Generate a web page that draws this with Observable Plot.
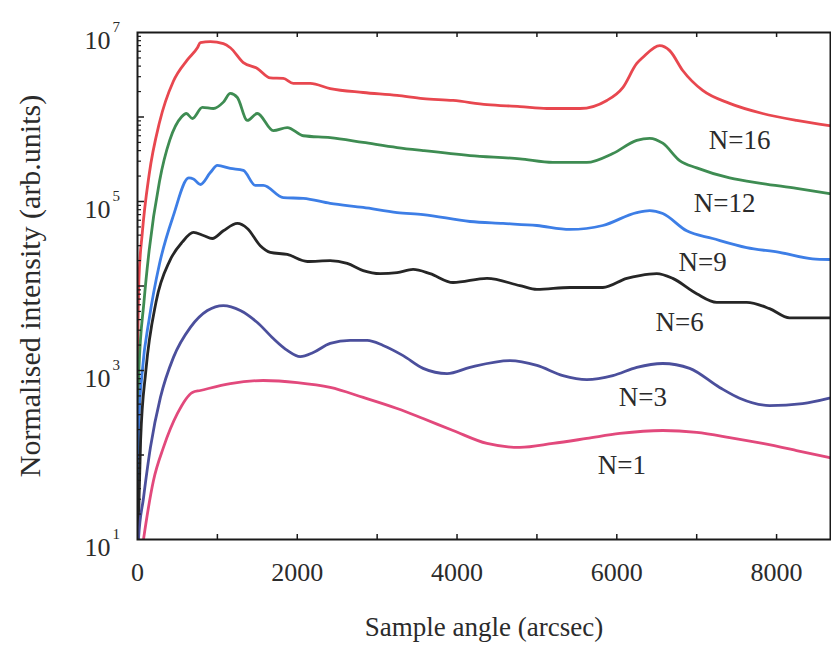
<!DOCTYPE html>
<html>
<head>
<meta charset="utf-8">
<script src="https://cdn.jsdelivr.net/npm/d3@7"></script>
<script src="https://cdn.jsdelivr.net/npm/@observablehq/plot@0.6"></script>
<style>
  html, body { margin: 0; padding: 0; background: #ffffff; }
  #chart { width: 831px; height: 648px; }
</style>
</head>
<body>
<div id="chart"></div>
<script>
// ---- data ----
const n16X = [0, 5, 17, 60, 146, 275, 449, 621, 750, 787, 912, 1075, 1162, 1325, 1500, 1662, 1825, 1950, 2162, 2412, 2825, 3250, 3575, 3950, 4375, 4787, 5125, 5537, 5875, 6075, 6250, 6325, 6537, 6662, 6825, 7075, 7412, 7825, 8250, 8662];
const n16Y = [5, 2000, 1.14e4, 4.24e4, 2.09e5, 8.6e5, 2.65e6, 4.7e6, 6.6e6, 7.6e6, 7.8e6, 7.4e6, 6.6e6, 4.4e6, 3.75e6, 2.9e6, 2.86e6, 2.5e6, 2.5e6, 2.17e6, 1.95e6, 1.8e6, 1.65e6, 1.57e6, 1.4e6, 1.33e6, 1.26e6, 1.26e6, 1.57e6, 2.23e6, 4.3e6, 5.06e6, 7.0e6, 6.1e6, 3.55e6, 2.06e6, 1.45e6, 1.1e6, 9.1e5, 7.9e5];

const n12X = [0, 5, 17, 81, 146, 275, 405, 550, 612, 687, 812, 950, 1075, 1162, 1250, 1375, 1500, 1700, 1875, 2075, 2412, 2825, 3250, 3575, 4162, 4787, 5200, 5625, 5950, 6250, 6412, 6575, 6787, 7000, 7412, 7825, 8250, 8662];
const n12Y = [5, 150, 985, 6470, 2.64e4, 1.73e5, 5.36e5, 1.0e6, 1.1e6, 9.6e5, 1.3e6, 1.26e6, 1.5e6, 1.9e6, 1.7e6, 9.1e5, 1.1e6, 6.9e5, 7.5e5, 6.0e5, 5.7e5, 5.0e5, 4.35e5, 4.0e5, 3.5e5, 3.2e5, 2.9e5, 2.9e5, 3.7e5, 5.3e5, 5.6e5, 4.9e5, 3.05e5, 2.5e5, 1.9e5, 1.63e5, 1.43e5, 1.24e5];

const n9X = [0, 5, 17, 60, 146, 275, 449, 642, 700, 787, 912, 1000, 1162, 1325, 1475, 1575, 1825, 2075, 2412, 2825, 3250, 3575, 4162, 4575, 5000, 5412, 5825, 6250, 6412, 6575, 6875, 7200, 7625, 8037, 8450, 8662];
const n9Y = [5, 30, 240, 985, 4040, 1.82e4, 6.8e4, 1.9e5, 1.85e5, 1.59e5, 2.2e5, 2.67e5, 2.46e5, 2.33e5, 1.55e5, 1.55e5, 1.11e5, 1.09e5, 9.5e4, 8.5e4, 7.4e4, 7.0e4, 5.8e4, 5.5e4, 5.2e4, 4.67e4, 5.2e4, 7.4e4, 7.8e4, 7.2e4, 4.5e4, 3.65e4, 2.85e4, 2.5e4, 2.1e4, 2.06e4];

const n6X = [0, 15, 39, 104, 232, 405, 560, 700, 825, 937, 1075, 1250, 1375, 1537, 1662, 1875, 2125, 2412, 2625, 2825, 3037, 3250, 3450, 3662, 3950, 4375, 4787, 5000, 5412, 5825, 6125, 6287, 6500, 6700, 7000, 7250, 7625, 7912, 8162, 8662];
const n6Y = [5, 20, 150, 985, 6470, 2.0e4, 3.3e4, 4.3e4, 3.96e4, 3.65e4, 4.5e4, 5.5e4, 4.8e4, 3.0e4, 2.5e4, 2.36e4, 1.95e4, 2.0e4, 1.85e4, 1.52e4, 1.4e4, 1.44e4, 1.57e4, 1.4e4, 1.1e4, 1.23e4, 1.01e4, 9.1e3, 9.6e3, 9.6e3, 1.23e4, 1.33e4, 1.4e4, 1.23e4, 8.1e3, 6.4e3, 6.4e3, 5.4e3, 4.2e3, 4.2e3];

const n3X = [0, 12, 75, 162, 287, 450, 662, 875, 1075, 1287, 1500, 1700, 1875, 2037, 2200, 2412, 2662, 2875, 3075, 3325, 3575, 3875, 4162, 4662, 5000, 5325, 5625, 5950, 6250, 6575, 6912, 7287, 7537, 7912, 8325, 8662];
const n3Y = [3, 10, 31, 123, 480, 1430, 3240, 5130, 5870, 5130, 3700, 2390, 1730, 1460, 1630, 2090, 2270, 2270, 1980, 1500, 1060, 920, 1090, 1310, 1150, 870, 780, 870, 1090, 1210, 1060, 630, 470, 385, 405, 470];

const n1X = [0, 75, 200, 325, 500, 687, 787, 1162, 1575, 2000, 2412, 2825, 3250, 3575, 3950, 4375, 4787, 5200, 5625, 6037, 6575, 7000, 7412, 7825, 8250, 8662];
const n1Y = [3, 10, 50, 123, 310, 550, 580, 700, 762, 720, 630, 480, 355, 270, 195, 137, 123, 137, 157, 180, 195, 185, 161, 137, 113, 93];

const seriesNames = ["N=16", "N=12", "N=9", "N=6", "N=3", "N=1"];
const seriesColors = ["#e8474f", "#3e8c52", "#3d7ee6", "#262626", "#4b4f9c", "#e2497c"];

// label anchors for the series names
const labelX = [7537, 7350, 7075, 6787, 6325, 6062];
const labelY = [5.3e5, 9.5e4, 1.9e4, 3.7e3, 480, 75];

// axis ticks
const xTickVals = [0, 2000, 4000, 6000, 8000];
const xMinorVals = [1000, 2000, 3000, 4000, 5000, 6000, 7000, 8000];
const yTickVals = [10, 1e3, 1e5, 1e7];
const yTickExp = ["1", "3", "5", "7"];
const yMajorVals = [1e2, 1e3, 1e4, 1e5, 1e6];
const yMinorVals = [];
for (let e = 1; e < 7; e++) for (let m = 2; m <= 9; m++) yMinorVals.push(m * Math.pow(10, e));

// ---- build table ----
const xs = [n16X, n12X, n9X, n6X, n3X, n1X];
const ys = [n16Y, n12Y, n9Y, n6Y, n3Y, n1Y];
const rows = [];
xs.forEach((arr, i) => arr.forEach((x, j) => rows.push({series: seriesNames[i], x, y: ys[i][j]})));
const labels = seriesNames.map((s, i) => ({s, x: labelX[i], y: labelY[i]}));

const W = 831, H = 648;
const mL = 137, mR = 1, mT = 32, mB = 109;
const innerW = W - mL - mR, innerH = H - mT - mB;
const serif = "'Liberation Serif', 'Times New Roman', serif";
const ink = "#2b2b2b";

const chart = Plot.plot({
  width: W,
  height: H,
  marginLeft: mL,
  marginRight: mR,
  marginTop: mT,
  marginBottom: mB,
  style: {fontFamily: serif, background: "#ffffff", color: ink, overflow: "visible"},
  x: {domain: [0, 8675], axis: null},
  y: {type: "log", domain: [10, 1e7], axis: null},
  color: {domain: seriesNames, range: seriesColors},
  marks: [
    Plot.line(rows, {x: "x", y: "y", z: "series", stroke: "series", strokeWidth: 2.8, curve: "monotone-x", clip: true}),
    Plot.frame({stroke: "#1a1a1a", strokeWidth: 2}),
    // inner ticks
    Plot.tickX(xMinorVals, {x: d => d, insetTop: innerH - 5, stroke: "#1a1a1a", strokeWidth: 1.5}),
    Plot.tickX(xMinorVals, {x: d => d, insetBottom: innerH - 5, stroke: "#1a1a1a", strokeWidth: 1.5}),
    Plot.tickY(yMinorVals, {y: d => d, insetRight: innerW - 4, stroke: "#1a1a1a", strokeWidth: 1.2}),
    Plot.tickY(yMajorVals, {y: d => d, insetRight: innerW - 7, stroke: "#1a1a1a", strokeWidth: 1.5}),
    // x tick labels
    Plot.text(xTickVals, {x: d => d, frameAnchor: "bottom", dy: 33, lineAnchor: "middle", textAnchor: "middle", text: d => String(d), fontSize: 26, fill: ink}),
    // y tick labels 10^n
    Plot.text(yTickVals, {y: d => d, frameAnchor: "left", dx: -27, dy: 8, lineAnchor: "middle", text: () => "10", textAnchor: "end", fontSize: 26, fill: ink}),
    Plot.text(yTickVals, {y: d => d, frameAnchor: "left", dx: -25, dy: -5, lineAnchor: "middle", text: (d, i) => yTickExp[i], textAnchor: "start", fontSize: 15, fill: ink}),
    // axis titles
    Plot.text(["Sample angle (arcsec)"], {frameAnchor: "bottom", dy: 88, lineAnchor: "middle", textAnchor: "middle", text: d => d, fontSize: 27, fill: ink}),
    Plot.text(["Normalised intensity (arb.units)"], {frameAnchor: "left", dx: -107, rotate: -90, lineAnchor: "middle", textAnchor: "middle", text: d => d, fontSize: 30, fill: ink}),
    // series labels
    Plot.text(labels, {x: "x", y: "y", text: "s", fontSize: 27, fill: ink})
  ]
});
document.getElementById("chart").appendChild(chart);
</script>
</body>
</html>
